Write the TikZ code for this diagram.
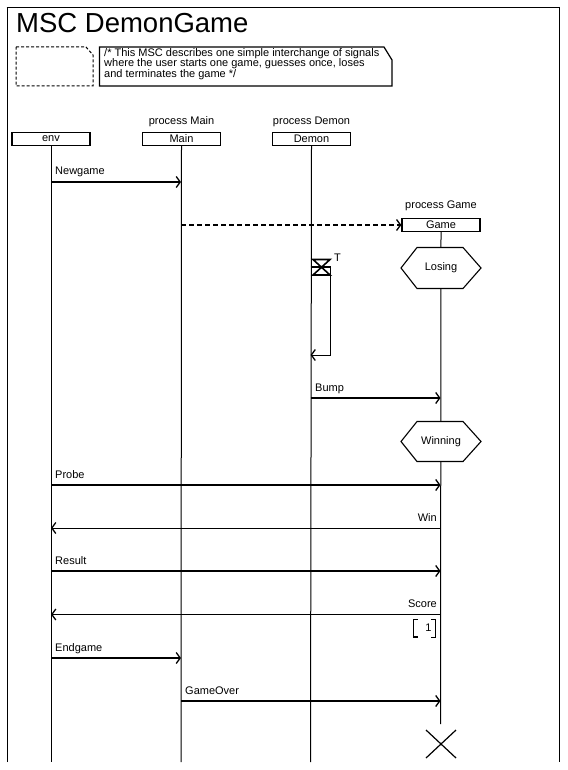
\documentclass[tikz,border=0pt]{standalone}
\usepackage{fontspec}
\setmainfont{Liberation Sans}
\usetikzlibrary{arrows.meta,calc}
\begin{document}
\begin{tikzpicture}[x=1pt,y=-1pt,
  txt/.style={font=\fontsize{11}{10.8}\selectfont, inner sep=0pt},
  head/.style={draw, line width=1.3pt, minimum width=78pt, minimum height=13pt, inner sep=0pt, font=\fontsize{11}{13}\selectfont},
  life/.style={line width=1pt},
  msg/.style={line width=1.5pt, -{Straight Barb[length=4pt,width=11pt,line width=1.3pt]}},
  rmsg/.style={line width=1pt, -{Straight Barb[length=4pt,width=11pt,line width=1.3pt]}},
  cond/.style={draw, line width=1.1pt, fill=white},
]
\useasboundingbox (0,0) rectangle (567,770);
% frame
\draw[line width=1pt] (7.5,762) -- (7.5,7.5);
\draw[line width=1.6pt] (6.7,7.5) -- (559,7.5);
\draw[line width=1pt] (559,7) -- (559,762);
\node[anchor=base west, inner sep=0pt, font=\fontsize{27.5}{30}\selectfont] (title) at (16,33) {MSC DemonGame};
% dashed text symbol
\draw[line width=1pt, dash pattern=on 3pt off 2pt] (16,47) -- (86,47) -- (93,55) -- (93,86) -- (16,86) -- cycle;
% comment
\draw[line width=1.2pt] (99.5,47) -- (384,47) -- (392,60) -- (392,86) -- (99.5,86) -- cycle;
\node[txt, anchor=north west, align=left] (comment) at (104,48) {/* This MSC describes one simple interchange of signals\\where the user starts one game, guesses once, loses\\and terminates the game */};
% instance heads
\node[head] (env) at (51,139) {env};
\node[head] (main) at (181.5,139) {Main};
\node[head] (demon) at (311.5,139) {Demon};
\node[txt, anchor=base] (pmain) at (181.5,125) {process Main};
\node[txt, anchor=base] (pdemon) at (311.5,125) {process Demon};
\coordinate (envEnd) at (51,762);
\coordinate (mainEnd) at (181,762);
\coordinate (demonEnd) at (310.5,762);
\draw[life] (env.south) -- (envEnd);
\draw[life] (main.south) -- (mainEnd);
\draw[life] (demon.south) -- (demonEnd);
% Newgame
\coordinate (e1) at (51,182); \coordinate (m1) at (181,182);
\draw[msg] (e1) -- (m1);
\node[txt, anchor=base west] (l1) at (55,175) {Newgame};
% create Game
\node[head] (game) at (441,225) {Game};
\node[txt, anchor=base] (pgame) at (441,208) {process Game};
\coordinate (m2) at (181,225);
\draw[line width=1.5pt, dash pattern=on 5pt off 3pt, -{Straight Barb[length=4pt,width=11pt,line width=1.3pt]}] (m2) -- (game.west);
\coordinate (gameEnd) at (440.5,724);
\draw[life] (game.south) -- (gameEnd);
% Losing
\draw[cond] (401,268) -- (417,247.5) -- (463,247.5) -- (481,268) -- (463,288.5) -- (417,288.5) -- cycle;
\node[txt] (losing) at (441,268) {Losing};
% Timer
\coordinate (t0) at (310.5,267);
\coordinate (t1) at (330.5,267);
\coordinate (t2) at (330.5,355);
\coordinate (t3) at (310.5,355);
\draw[line width=1.6pt] (313,259.5) -- (330,259.5) -- (313,275) -- (330,275) -- cycle;
\draw[line width=1.8pt] (t0) -- (t1);
\draw[line width=1pt] (t1) -- (t2);
\draw[rmsg] (t2) -- (t3);
\node[txt, anchor=base west] (T) at (334,261) {T};
% Bump
\coordinate (d4) at (310.5,398); \coordinate (g4) at (440.5,398);
\draw[msg] (d4) -- (g4);
\node[txt, anchor=base west] (l4) at (315,391) {Bump};
% Winning
\draw[cond] (401,441.5) -- (417,421.5) -- (463,421.5) -- (481,441.5) -- (463,461.5) -- (417,461.5) -- cycle;
\node[txt] (winning) at (441,441.5) {Winning};
% Probe
\coordinate (e5) at (51,485); \coordinate (g5) at (440.5,485);
\draw[msg] (e5) -- (g5);
\node[txt, anchor=base west] (l5) at (55,478) {Probe};
% Win
\coordinate (g6) at (440.5,528); \coordinate (e6) at (51,528);
\draw[rmsg] (g6) -- (e6);
\node[txt, anchor=base east] (l6) at (437,521) {Win};
% Result
\coordinate (e7) at (51,571); \coordinate (g7) at (440.5,571);
\draw[msg] (e7) -- (g7);
\node[txt, anchor=base west] (l7) at (55,564) {Result};
% Score
\coordinate (g8) at (440.5,614.5); \coordinate (e8) at (51,614.5);
\draw[rmsg] (g8) -- (e8);
\node[txt, anchor=base east] (l8) at (437,607.5) {Score};
% bracket 1
\draw[line width=1pt] (418,619) -- (413.5,619) -- (413.5,637) -- (418,637);
\draw[line width=1.6pt] (413.5,637) -- (418,637);
\draw[line width=1pt] (431,619) -- (435.5,619) -- (435.5,637) -- (431,637);
\node[txt, anchor=base] (one) at (428.5,631) {1};
% Endgame
\coordinate (e9) at (51,658); \coordinate (m9) at (181,658);
\draw[msg] (e9) -- (m9);
\node[txt, anchor=base west] (l9) at (55,651) {Endgame};
% GameOver
\coordinate (m10) at (181,701); \coordinate (g10) at (440.5,701);
\draw[msg] (m10) -- (g10);
\node[txt, anchor=base west] (l10) at (185,694) {GameOver};
% stop
\coordinate (stop) at (441,744);
\draw[line width=1.2pt] ($(stop)+(-15,-14)$) -- ($(stop)+(15,14)$);
\draw[line width=1.2pt] ($(stop)+(15,-14)$) -- ($(stop)+(-15,14)$);
\end{tikzpicture}
\end{document}
